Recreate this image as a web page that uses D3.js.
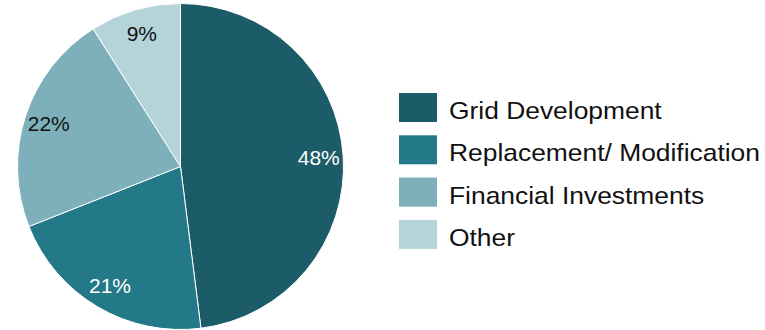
<!DOCTYPE html>
<html>
<head>
<meta charset="utf-8">
<script src="https://cdn.jsdelivr.net/npm/d3@7"></script>
<style>
  html, body { margin: 0; padding: 0; background: #fff; }
  svg { display: block; font-family: "Liberation Sans", Arial, sans-serif; }
</style>
</head>
<body>
<svg id="chart" width="765" height="330"></svg>
<script>
// Spending breakdown by category (percent of total)
const categories = ["Grid Development", "Replacement/ Modification", "Financial Investments", "Other"];
const shares = [48, 21, 22, 9];
const sliceColors = ["#1c5c68", "#237987", "#7db0ba", "#b5d4da"];
const labelColors = ["#ffffff", "#ffffff", "#111111", "#111111"];

const svg = d3.select("#chart");
const cx = 180.5, cy = 166.5, radius = 163;

const data = categories.map((c, i) => ({ category: c, value: shares[i] }));

const pie = d3.pie().value(d => d.value).sort(null);
const arc = d3.arc().innerRadius(0).outerRadius(radius);
const labelArc = d3.arc().innerRadius(radius * 0.85).outerRadius(radius * 0.85);

const color = d3.scaleOrdinal().domain(categories).range(sliceColors);
const textColor = d3.scaleOrdinal().domain(categories).range(labelColors);

const g = svg.append("g").attr("transform", `translate(${cx},${cy})`);
const arcs = pie(data);

g.selectAll("path.slice")
  .data(arcs)
  .join("path")
  .attr("class", "slice")
  .attr("d", arc)
  .attr("fill", d => color(d.data.category))
  .attr("stroke", "#ffffff")
  .attr("stroke-width", 1);

g.selectAll("text.pct")
  .data(arcs)
  .join("text")
  .attr("class", "pct")
  .attr("transform", d => `translate(${labelArc.centroid(d)})`)
  .attr("text-anchor", "middle")
  .attr("dy", "0.36em")
  .attr("font-size", 21)
  .attr("fill", d => textColor(d.data.category))
  .text(d => d.data.value + "%");

// Legend
const legend = svg.append("g").attr("transform", "translate(399,93)");
const rowStep = 42.3;
const rows = legend.selectAll("g.row")
  .data(categories)
  .join("g")
  .attr("class", "row")
  .attr("transform", (d, i) => `translate(0,${i * rowStep})`);

rows.append("rect")
  .attr("width", 38)
  .attr("height", 29)
  .attr("fill", d => color(d));

rows.append("text")
  .attr("transform", "translate(50,26) scale(1.1,1)")
  .attr("font-size", 24)
  .attr("fill", "#111111")
  .text(d => d);
</script>
</body>
</html>
